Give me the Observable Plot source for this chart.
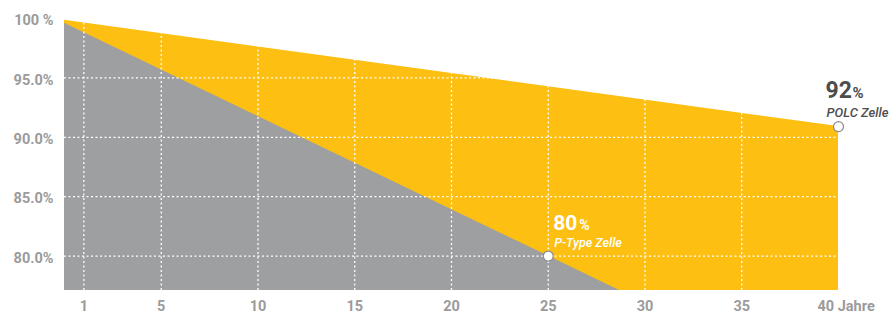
<!DOCTYPE html>
<html>
<head>
<meta charset="utf-8">
<script src="https://cdn.jsdelivr.net/npm/d3@7"></script>
<script src="https://cdn.jsdelivr.net/npm/@observablehq/plot@0.6"></script>
<style>
  html, body { margin: 0; padding: 0; background: #fff; }
  #chart svg { display: block; overflow: visible; }
</style>
</head>
<body>
<div id="chart"></div>
<script>
// Data (years, performance in %)
const polcYears = [0, 40];
const polcValues = [99.85, 90.9];
const ptypeYears = [0, 25, 40];
const ptypeValues = [99.6, 80, 68.2];
const xTicks = [1, 5, 10, 15, 20, 25, 30, 35];
const yTicks = [80, 85, 90, 95, 100];
const yTickLabels = ["80.0%", "85.0%", "90.0%", "95.0%", "100 %"];
const yMin = 77.1;
const annotations = [
  {year: 40, value: 90.9, big: "92", unit: "%", label: "POLC Zelle"},
  {year: 25, value: 80, big: "80", unit: "%", label: "P-Type Zelle"}
];

const polc = polcYears.map((x, i) => ({x, v: polcValues[i]}));
const ptype = ptypeYears.map((x, i) => ({x, v: ptypeValues[i]}));

const YELLOW = "#fcbf12";
const GREY = "#9d9fa0";
const LABEL = "#9b9b9b";
const DARK = "#4d4d4d";
const FONT = "Roboto, 'DejaVu Sans', sans-serif";

const chart = Plot.plot({
  width: 889,
  height: 315,
  marginLeft: 64,
  marginRight: 51,
  marginTop: 18,
  marginBottom: 25,
  style: {fontFamily: FONT, overflow: "visible"},
  x: {domain: [0, 40]},
  y: {domain: [yMin, 100]},
  marks: [
    Plot.areaY(polc, {x: "x", y1: yMin, y2: "v", fill: YELLOW, clip: true}),
    Plot.areaY(ptype, {x: "x", y1: yMin, y2: "v", fill: GREY, clip: true}),
    Plot.gridX(xTicks, {stroke: "#fff", strokeOpacity: 1, strokeWidth: 1.3, strokeDasharray: "2,2.5"}),
    Plot.gridY(yTicks.filter(d => d < 100), {stroke: "#fff", strokeOpacity: 1, strokeWidth: 1.3, strokeDasharray: "2,2.5"}),
    Plot.axisY(yTicks, {
      tickSize: 0, tickPadding: 11, dy: 2,
      tickFormat: d => yTickLabels[yTicks.indexOf(d)],
      fontSize: 14.5, fontWeight: "bold", fill: LABEL, label: null
    }),
    Plot.axisX(xTicks, {
      tickSize: 0, tickPadding: 10,
      fontSize: 14.5, fontWeight: "bold", fill: LABEL, label: null
    }),
    Plot.text([40], {
      x: d => d, frameAnchor: "bottom", lineAnchor: "top", dy: 10, dx: -21,
      textAnchor: "start", text: () => "40 Jahre",
      fontSize: 14.5, fontWeight: "bold", fill: LABEL
    }),
    Plot.dot(annotations, {x: "year", y: "value", r: 5, fill: "#fff", stroke: "#8c8c8c", strokeWidth: 1.2}),
    // POLC annotation
    Plot.text(annotations.slice(0, 1), {x: "year", y: "value", text: "big", textAnchor: "start",
      dx: -13, dy: -36.4, fontSize: 23, fontWeight: "bold", fill: DARK}),
    Plot.text(annotations.slice(0, 1), {x: "year", y: "value", text: "unit", textAnchor: "start",
      dx: 14, dy: -33.8, fontSize: 15, fontWeight: "bold", fill: DARK}),
    Plot.text(annotations.slice(0, 1), {x: "year", y: "value", text: "label", textAnchor: "start",
      dx: -12, dy: -13.3, fontSize: 13, fontStyle: "italic", fontWeight: "500", fill: DARK}),
    // P-Type annotation
    Plot.text(annotations.slice(1), {x: "year", y: "value", text: "big", textAnchor: "start",
      dx: 5, dy: -32.7, fontSize: 21, fontWeight: "bold", fill: "#fff"}),
    Plot.text(annotations.slice(1), {x: "year", y: "value", text: "unit", textAnchor: "start",
      dx: 31, dy: -30.5, fontSize: 14, fontWeight: "bold", fill: "#fff"}),
    Plot.text(annotations.slice(1), {x: "year", y: "value", text: "label", textAnchor: "start",
      dx: 6, dy: -13.5, fontSize: 12.5, fontStyle: "italic", fontWeight: "500", fill: "#fff"})
  ]
});
document.getElementById("chart").appendChild(chart);
</script>
</body>
</html>
